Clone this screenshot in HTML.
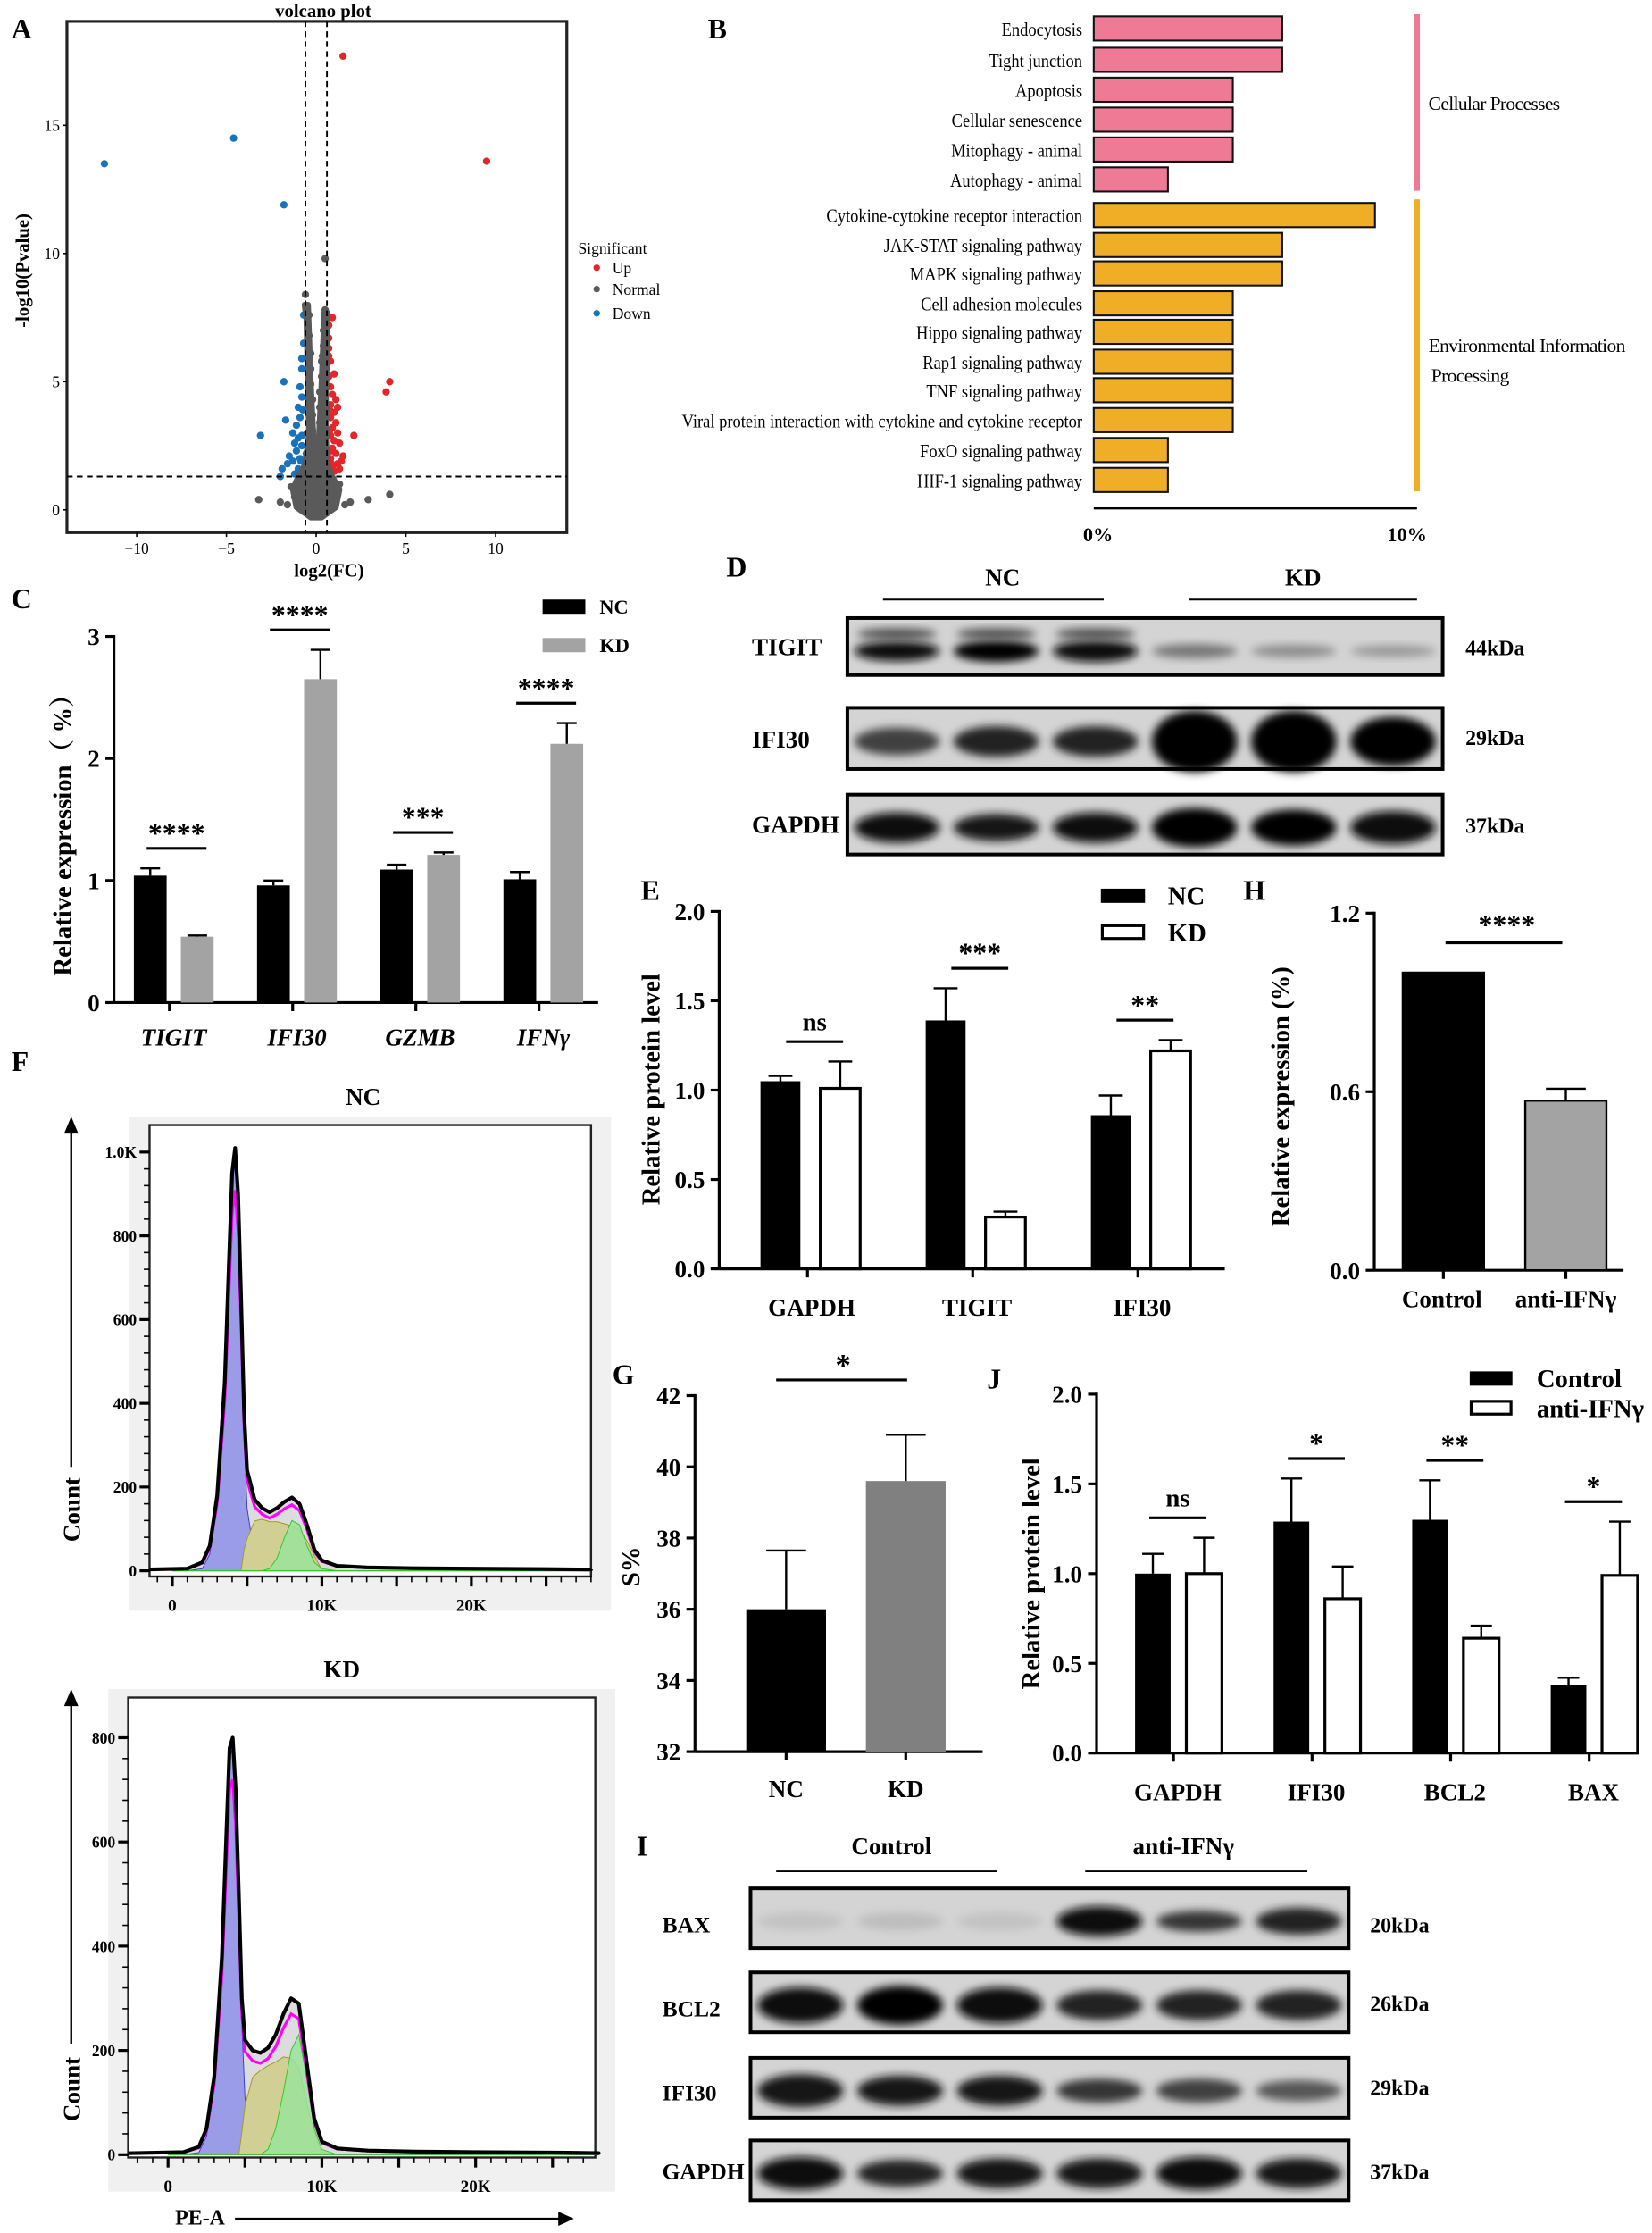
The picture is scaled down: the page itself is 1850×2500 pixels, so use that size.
<!DOCTYPE html>
<html><head><meta charset="utf-8"><style>
html,body{margin:0;padding:0;background:#fff}
svg{display:block}
text{font-family:"Liberation Serif",serif;font-weight:bold;fill:#000}
.n{font-weight:normal}
</style></head><body>
<svg id="fig" xmlns="http://www.w3.org/2000/svg" width="1850" height="2500" viewBox="0 0 1160 1568" preserveAspectRatio="none">
<defs><filter id="blur" x="-20%" y="-50%" width="140%" height="200%"><feGaussianBlur stdDeviation="3"/></filter></defs>
</svg>
<script>
// ---------- DATA ----------
// volcano
const upX=[1.5,9.5,4.1,3.9,2.1,0.9,0.7,0.7,0.7,0.7,0.8,1.0,0.7,0.8,0.9,1.1,0.8,1.2,1.0,0.8,1.1,0.9,1.2,0.8,1.0,1.3,0.9,1.1,0.8,1.4,1.2,0.9,1.0,1.3,0.8,1.5,0.75,0.75,0.8,0.85];
const upY=[17.7,13.6,5.0,4.6,2.9,7.5,7.2,6.7,6.3,6.0,5.8,5.3,5.2,4.8,4.5,4.3,4.1,4.0,3.8,3.6,3.4,3.2,3.0,2.9,2.7,2.6,2.4,2.2,2.0,1.9,1.8,1.7,1.5,1.6,1.4,2.1,3.9,3.1,2.3,1.8];
const downX=[-11.8,-4.6,-1.8,-1.8,-3.1,-1.7,-0.7,-0.7,-0.8,-0.8,-0.9,-0.8,-1.0,-0.9,-1.1,-1.3,-1.0,-1.2,-0.8,-1.1,-1.5,-0.9,-1.3,-1.9,-1.6,-1.0,-0.8,-1.2,-2.0,-0.75,-0.8,-0.85];
const downY=[13.5,14.5,11.9,5.0,2.9,3.5,7.6,6.5,5.9,5.5,4.8,4.4,4.0,3.6,3.3,3.0,2.8,2.6,2.5,2.3,2.1,2.0,1.9,1.6,1.8,1.6,1.5,1.4,1.3,3.9,2.9,1.9];
const normX=[0.5,-0.6,0.5,-0.4,0.4,-0.4,0.4,-0.3,0.3,-0.3,0.3,-0.3,0.2,-0.2,0.2,-0.2,0.2,-0.2,0.15,-0.15,0.1,-0.1,0.1,0,-0.4,0.4,-0.5,0.5,-0.2,0.2,-0.7,0.7,0,-0.3,0.3,-0.9,0.9,-1.2,1.2,0,-0.5,0.5,-1.6,1.6,-2.0,-3.2,2.9,4.1,1.9,-1.4,1.3,-0.6,0.55,-0.55,0.5,-0.5,0.45,-0.45,0.4,-0.4,0.35,-0.1,0.1,-0.6,0.6,-0.3,0.3,-0.8,0.8,-1.0,1.0];
const normY=[9.8,8.4,7.8,7.6,7.0,6.8,6.4,6.1,5.8,5.5,5.2,4.9,4.6,4.3,4.0,3.7,3.4,3.1,2.8,2.5,2.2,1.9,1.6,1.3,1.2,1.2,0.9,0.9,0.8,0.7,0.6,0.6,0.5,0.4,0.3,0.4,0.3,0.5,0.6,0.1,0.2,0.1,0.2,0.2,0.3,0.4,0.4,0.6,0.3,0.9,1.0,1.5,1.6,2.2,2.4,3.0,3.3,4.0,4.5,5.2,6.0,0.3,0.2,1.0,1.1,1.0,0.9,0.2,0.3,0.9,0.8];
// dense envelope of the "normal" cloud
const envX=[-0.65,-0.55,-0.5,-0.45,-0.4,-0.6,-1.0,-1.3,-1.1,-0.3,0.3,1.1,1.3,0.9,0.6,0.55,0.55,0.6,0.6,0.45,0.3,0.15,0,-0.15,-0.3,-0.45];
const envY=[8.0,7.5,6.0,4.5,3.0,1.8,1.3,0.8,0.1,-0.3,-0.3,0.1,0.8,1.3,1.8,3.0,4.5,6.0,7.7,7.7,5.0,2.8,2.0,2.8,5.0,8.0];
const volXTicks=[-10,-5,0,5,10];
const volYTicks=[0,5,10,15];
// KEGG
const keggCats=["Endocytosis","Tight junction","Apoptosis","Cellular senescence","Mitophagy - animal","Autophagy - animal","Cytokine-cytokine receptor interaction","JAK-STAT signaling pathway","MAPK signaling pathway","Cell adhesion molecules","Hippo signaling pathway","Rap1 signaling pathway","TNF signaling pathway","Viral protein interaction with cytokine and cytokine receptor","FoxO signaling pathway","HIF-1 signaling pathway"];
const keggVals=[6.1,6.1,4.5,4.5,4.5,2.4,9.1,6.1,6.1,4.5,4.5,4.5,4.5,4.5,2.4,2.4];
const keggGroup=[0,0,0,0,0,0,1,1,1,1,1,1,1,1,1,1];
const keggTicks=["0%","10%"];
const keggTickVals=[0,10];
// C
const cCats=["TIGIT","IFI30","GZMB","IFNγ"];
const cNC=[1.04,0.96,1.09,1.01];
const cNCerr=[0.06,0.04,0.04,0.06];
const cKD=[0.54,2.65,1.21,2.12];
const cKDerr=[0.01,0.24,0.02,0.17];
const cSig=["****","****","***","****"];
const cTicks=[0,1,2,3];
// E
const eCats=["GAPDH","TIGIT","IFI30"];
const eNC=[1.05,1.39,0.86];
const eNCerr=[0.03,0.18,0.11];
const eKD=[1.01,0.29,1.22];
const eKDerr=[0.15,0.03,0.06];
const eSig=["ns","***","**"];
const eTicks=[0,0.5,1.0,1.5,2.0];
// H
const hCats=["Control","anti-IFNγ"];
const hVals=[1.0,0.57];
const hErr=[0,0.04];
const hTicks=[0,0.6,1.2];
// G
const gCats=["NC","KD"];
const gVals=[36.0,39.6];
const gErr=[1.65,1.3];
const gTicks=[32,34,36,38,40,42];
// J
const jCats=["GAPDH","IFI30","BCL2","BAX"];
const jCtrl=[1.00,1.29,1.30,0.38];
const jCtrlErr=[0.11,0.24,0.22,0.04];
const jAnti=[1.00,0.86,0.64,0.99];
const jAntiErr=[0.20,0.18,0.07,0.30];
const jSig=["ns","*","**","*"];
const jTicks=[0,0.5,1.0,1.5,2.0];
// Flow histograms (x in K channels)
const flowX=[1,2,2.5,3,3.5,3.8,4.0,4.2,4.4,4.6,4.8,5,5.5,6,6.5,7,7.5,8,8.5,9,9.5,10,11,13,16,20,25,28];
const ncTotal=[5,20,60,180,450,750,950,1010,900,650,380,240,170,150,140,150,165,175,160,110,50,25,12,8,6,5,4,3];
const ncG1=[0,5,40,160,420,720,920,980,870,600,320,150,30,5,0,0,0,0,0,0,0,0,0,0,0,0,0,0];
const ncG2=[0,0,0,0,0,0,0,0,0,0,0,0,0,0,5,30,80,120,110,60,20,5,0,0,0,0,0,0];
const kdTotal=[5,15,50,150,380,620,780,800,700,500,300,220,200,195,205,230,270,300,290,180,70,25,12,8,6,5,4,3];
const kdG1=[0,4,35,130,350,590,760,780,670,460,250,110,25,5,0,0,0,0,0,0,0,0,0,0,0,0,0,0];
const kdG2=[0,0,0,0,0,0,0,0,0,0,0,0,0,0,10,50,120,200,230,150,50,10,0,0,0,0,0,0];
const ncYTicks=[0,200,400,600,800,1000];
const ncYLabels=["0","200","400","600","800","1.0K"];
const kdYTicks=[0,200,400,600,800];
const flowXTicks=[0,10,20];
const flowXLabels=["0","10K","20K"];
// Blots (band intensity 0..1)
const dLanesTIGIT=[0.95,1.0,0.95,0.45,0.35,0.3];
const dLanesIFI30=[0.7,0.85,0.85,1.0,1.0,1.0];
const dLanesIFI30h=[0.45,0.5,0.5,1.0,1.0,0.8];
const dLanesGAPDH=[0.95,0.9,0.95,1.0,1.0,0.95];
const iLanesBAX=[0.1,0.12,0.1,0.95,0.75,0.85];
const iLanesBCL2=[0.95,1.0,0.95,0.85,0.85,0.85];
const iLanesIFI30=[0.9,0.9,0.9,0.75,0.7,0.6];
const iLanesGAPDH=[0.95,0.85,0.9,0.9,0.95,0.9];

// ---------- HELPERS ----------
const NS="http://www.w3.org/2000/svg";
const svg=document.getElementById('fig');
function mk(tag,attrs,name,parent){
  const el=document.createElementNS(NS,tag);
  for(const k in attrs) el.setAttribute(k,attrs[k]);
  
  
  (parent||svg).appendChild(el);
  return el;
}
function tx(x,y,s,name,opt){
  opt=opt||{};
  const a={x:x,y:y,'font-size':opt.size||14,'text-anchor':opt.anchor||'middle'};
  if(opt.cls) a['class']=opt.cls;
  if(opt.rot!==undefined) a.transform='rotate('+opt.rot+' '+x+' '+y+')';
  if(opt.style) a.style=opt.style;
  if(opt.fill) a.fill=opt.fill;
  const el=mk('text',a,name);
  el.textContent=s;
  return el;
}
function ln(x1,y1,x2,y2,name,w,extra){
  const a={x1:x1,y1:y1,x2:x2,y2:y2,stroke:'#000','stroke-width':w||1.5};
  if(extra) for(const k in extra) a[k]=extra[k];
  return mk('line',a,name);
}
function errBar(cx,yTop,yErr,cap,name){
  ln(cx,yTop,cx,yErr,name,1.5);
  ln(cx-cap,yErr,cx+cap,yErr,name+'-cap',1.5);
}

// ---------- PANEL LABELS ----------
[["A",8,27],["B",497,27],["C",8,427],["D",510,405],["E",450,632],["F",8,752],["G",430,972],["H",873,632],["J",693,975],["I",447,1303]].forEach(p=>{
  tx(p[1],p[2],p[0],'panel-label-'+p[0],{size:20,anchor:'start'});
});

// ---------- A: VOLCANO ----------
(function(){
  const vx=v=>222+v*12.6, vy=v=>358-v*18;
  tx(227,12,'volcano plot','volcano-title',{size:13});
  mk('rect',{x:47,y:15,width:351,height:359,fill:'#fff',stroke:'#222','stroke-width':2},'volcano-frame');
  volXTicks.forEach(t=>{ln(vx(t),374,vx(t),377,'volcano-x-tick',1);tx(vx(t),389,String(t).replace('-','−'),'volcano-x-tick-label',{size:11,cls:'n',fill:'#444'});});
  volYTicks.forEach(t=>{ln(44,vy(t),47,vy(t),'volcano-y-tick',1);tx(42,vy(t)+4,t,'volcano-y-tick-label',{size:11,cls:'n',anchor:'end',fill:'#444'});});
  tx(231,405,'log2(FC)','volcano-x-title',{size:13});
  tx(20,190,'-log10(Pvalue)','volcano-y-title',{size:13,rot:-90});
  const draw=(X,Y,c,n)=>X.forEach((x,i)=>mk('circle',{cx:vx(x),cy:vy(Y[i]),r:2.6,fill:c},n));
  draw(downX,downY,'#1a72bb','volcano-point-down');
  draw(upX,upY,'#e3262a','volcano-point-up');
  let d='';envX.forEach((x,i)=>{d+=(i?' L':'M')+vx(x).toFixed(1)+','+vy(envY[i]).toFixed(1);});
  mk('path',{d:d+' Z',fill:'#5a5a5a',stroke:'#5a5a5a','stroke-width':4,'stroke-linejoin':'round'},'volcano-normal-cloud');
  draw(normX,normY,'#5a5a5a','volcano-point-normal');
  ln(vx(-0.6),15,vx(-0.6),374,'volcano-fc-threshold-left',1.2,{'stroke-dasharray':'4,3'});
  ln(vx(0.6),15,vx(0.6),374,'volcano-fc-threshold-right',1.2,{'stroke-dasharray':'4,3'});
  ln(47,vy(1.3),398,vy(1.3),'volcano-p-threshold',1.2,{'stroke-dasharray':'4,3'});
  tx(406,178,'Significant','legend-title',{size:11,anchor:'start',cls:'n'});
  [['Up','#e3262a',192],['Normal','#5a5a5a',207],['Down','#1a72bb',224]].forEach(l=>{
    mk('circle',{cx:419,cy:l[2]-4,r:2.3,fill:l[1]},'legend-dot-'+l[0].toLowerCase());
    tx(430,l[2],l[0],'legend-entry-'+l[0].toLowerCase(),{size:11,anchor:'start',cls:'n'});
  });
})();

// ---------- B: KEGG ----------
(function(){
  const sx=v=>768+v*21.7;
  const rowY=[20,42,63,84,105,126,151,172,192,213,233,254,274,295,316,337];
  keggCats.forEach((c,i)=>{
    const y=rowY[i];
    mk('rect',{x:sx(0),y:y-8.5,width:sx(keggVals[i])-sx(0),height:17,fill:keggGroup[i]?'#f0ad26':'#ef7a96',stroke:'#111','stroke-width':1.3},'kegg-bar');
    const t=tx(760,y+5,c,'kegg-category-label',{size:13.5,anchor:'end',cls:'n'});
    t.setAttribute('transform','translate(760 0) scale(0.86 1) translate(-760 0)');
  });
  ln(768,357,995,357,'kegg-x-axis',1.5);
  keggTickVals.forEach((v,i)=>tx(sx(v)+3,380,keggTicks[i],'kegg-x-tick-label',{size:14}));
  mk('rect',{x:993,y:10,width:4,height:124,fill:'#ef7a96'},'bracket-cellular-processes');
  mk('rect',{x:993,y:140,width:4,height:205,fill:'#f0ad26'},'bracket-environmental-information');
  tx(1003,77,'Cellular Processes','group-label-cellular-processes',{size:13.5,anchor:'start',cls:'n',style:'letter-spacing:-0.4px'});
  tx(1003,247,'Environmental Information','group-label-environmental-1',{size:13.5,anchor:'start',cls:'n',style:'letter-spacing:-0.4px'});
  tx(1005,268,'Processing','group-label-environmental-2',{size:13.5,anchor:'start',cls:'n',style:'letter-spacing:-0.4px'});
})();

// ---------- generic grouped bar chart ----------
function grouped(cfg){
  const sy=v=>cfg.y0-(v-cfg.min)*cfg.ppu;
  ln(cfg.ax,sy(cfg.ticks[cfg.ticks.length-1])-1,cfg.ax,cfg.y0,cfg.name+'-y-axis',2);
  ln(cfg.ax,cfg.y0,cfg.axEnd,cfg.y0,cfg.name+'-x-axis',2);
  cfg.ticks.forEach((t,i)=>{
    ln(cfg.ax-6,sy(t),cfg.ax,sy(t),cfg.name+'-y-tick',2);
    tx(cfg.ax-10,sy(t)+6,cfg.tickLabels?cfg.tickLabels[i]:t.toFixed(cfg.dec),cfg.name+'-y-tick-label',{size:17,anchor:'end'});
  });
  cfg.cats.forEach((c,i)=>{
    const cx=cfg.c0+i*cfg.step;
    cfg.series.forEach((s,j)=>{
      const x=cx+cfg.offs[j];
      const top=sy(s.vals[i]);
      mk('rect',{x:x,y:top,width:cfg.bw,height:cfg.y0-top,fill:s.fill,stroke:s.stroke||s.fill,'stroke-width':s.stroke?2:0},cfg.name+'-bar-'+s.key);
      if(s.err[i]>0) errBar(x+cfg.bw/2,top,sy(s.vals[i]+s.err[i]),cfg.bw*0.3,cfg.name+'-error-bar');
    });
    ln(cx-3,cfg.y0,cx-3,cfg.y0+6,cfg.name+'-x-tick',2);
    tx(cx+(cfg.lblOff||0),cfg.y0+cfg.lblDy,c,cfg.name+'-x-label',{size:17,style:cfg.italic?'font-style:italic':''});
    if(cfg.sig){
      const m=Math.max(...cfg.series.map(s=>s.vals[i]+s.err[i]));
      const ly=sy(m)-cfg.sigGap;
      ln(cx-cfg.sigHalf+cfg.sigShift,ly,cx+cfg.sigHalf+cfg.sigShift,ly,cfg.name+'-significance-line',2);
      tx(cx+cfg.sigShift,ly-(cfg.sig[i]==='ns'?8:4),cfg.sig[i],cfg.name+'-significance-label',{size:cfg.sig[i]==='ns'?18:20});
    }
  });
}

// ---------- C ----------
grouped({name:'qpcr',y0:704,min:0,ppu:85.7,ax:80,axEnd:420,ticks:cTicks,dec:0,cats:cCats,c0:122,step:86.5,offs:[-28,5],bw:23,
  series:[{key:'nc',vals:cNC,err:cNCerr,fill:'#000'},{key:'kd',vals:cKD,err:cKDerr,fill:'#a3a3a3'}],
  lblDy:30,italic:true,sig:cSig,sigGap:14,sigHalf:21,sigShift:2});
tx(50,582,'Relative expression（ %）','qpcr-y-title',{size:18,rot:-90,style:'font-family:"Liberation Serif","Noto Serif CJK SC",serif'});
mk('rect',{x:381,y:421,width:30,height:10,fill:'#000'},'legend-swatch-nc');
tx(421,431,'NC','legend-label-nc',{size:14,anchor:'start'});
mk('rect',{x:381,y:448,width:30,height:10,fill:'#a3a3a3'},'legend-swatch-kd');
tx(421,458,'KD','legend-label-kd',{size:14,anchor:'start'});

// ---------- E ----------
grouped({name:'wb-quant-e',y0:891,min:0,ppu:125.5,ax:505,axEnd:860,ticks:eTicks,dec:1,cats:eCats,c0:570,step:116,offs:[-36,6],bw:28,
  series:[{key:'nc',vals:eNC,err:eNCerr,fill:'#000'},{key:'kd',vals:eKD,err:eKDerr,fill:'#fff',stroke:'#000'}],
  lblDy:33,sig:eSig,sigGap:14,sigHalf:20,sigShift:2});
tx(463,765,'Relative protein level','wb-quant-e-y-title',{size:18,rot:-90});
mk('rect',{x:773,y:624,width:31,height:10,fill:'#000'},'legend-swatch-nc');
tx(820,635,'NC','legend-label-nc',{size:18,anchor:'start'});
mk('rect',{x:774,y:650,width:29,height:9,fill:'#fff',stroke:'#000','stroke-width':2},'legend-swatch-kd');
tx(820,661,'KD','legend-label-kd',{size:18,anchor:'start'});

// ---------- H ----------
(function(){
  const y0=892,ppu=209,ax=965,sy=v=>y0-v*ppu;
  ln(ax,sy(1.2)-1,ax,y0,'h-y-axis',2);ln(ax,y0,1140,y0,'h-x-axis',2);
  hTicks.forEach(t=>{ln(ax-6,sy(t),ax,sy(t),'h-y-tick',2);tx(ax-10,sy(t)+6,t.toFixed(1),'h-y-tick-label',{size:17,anchor:'end'});});
  const xs=[985,1071],fills=['#000','#a3a3a3'],w=57;
  hCats.forEach((c,i)=>{
    const top=sy(hVals[i]);
    mk('rect',{x:xs[i],y:top,width:w,height:y0-top,fill:fills[i],stroke:'#000','stroke-width':1.5},'h-bar');
    if(hErr[i]>0) errBar(xs[i]+w/2,top,sy(hVals[i]+hErr[i]),14,'h-error-bar');
    ln(xs[i]+w/2,y0,xs[i]+w/2,y0+6,'h-x-tick',2);
    tx(xs[i]+w/2-(i?0:1),918,c,'h-x-label',{size:17});
  });
  ln(1015,662,1097,662,'h-significance-line',2);
  tx(1058,656,'****','h-significance-label',{size:20});
  tx(905,770,'Relative expression  (%)','h-y-title',{size:18,rot:-90});
})();

// ---------- G ----------
(function(){
  const y0=1230,ppu=25,ax=488,sy=v=>y0-(v-32)*ppu;
  ln(ax,sy(42)-1,ax,y0,'g-y-axis',2);ln(ax,y0,690,y0,'g-x-axis',2);
  gTicks.forEach(t=>{ln(ax-6,sy(t),ax,sy(t),'g-y-tick',2);tx(ax-10,sy(t)+6,t,'g-y-tick-label',{size:17,anchor:'end'});});
  const xs=[524,608],fills=['#000','#808080'],w=56;
  gCats.forEach((c,i)=>{
    const top=sy(gVals[i]);
    mk('rect',{x:xs[i],y:top,width:w,height:y0-top,fill:fills[i]},'g-bar');
    errBar(xs[i]+w/2,top,sy(gVals[i]+gErr[i]),14,'g-error-bar');
    ln(xs[i]+w/2,y0,xs[i]+w/2,y0+6,'g-x-tick',2);
    tx(xs[i]+w/2,1262,c,'g-x-label',{size:17});
  });
  ln(545,969,637,969,'g-significance-line',2);
  tx(592,966,'*','g-significance-label',{size:22});
  tx(449,1100,'S%','g-y-title',{size:18,rot:-90});
})();

// ---------- J ----------
grouped({name:'wb-quant-j',y0:1231,min:0,ppu:126,ax:770,axEnd:1150,ticks:jTicks,dec:1,cats:jCats,c0:827,step:97.3,offs:[-30,6],bw:25,
  series:[{key:'control',vals:jCtrl,err:jCtrlErr,fill:'#000'},{key:'anti-ifng',vals:jAnti,err:jAntiErr,fill:'#fff',stroke:'#000'}],
  lblDy:33,sig:jSig,sigGap:14,sigHalf:20,sigShift:0});
tx(730,1105,'Relative protein level','wb-quant-j-y-title',{size:18,rot:-90});
mk('rect',{x:1032,y:963,width:30,height:10,fill:'#000'},'legend-swatch-control');
tx(1079,974,'Control','legend-label-control',{size:18,anchor:'start'});
mk('rect',{x:1033,y:984,width:28,height:9,fill:'#fff',stroke:'#000','stroke-width':2},'legend-swatch-anti-ifng');
tx(1079,995,'anti-IFNγ','legend-label-anti-ifng',{size:18,anchor:'start'});

// ---------- F: Flow ----------
function flow(o){
  mk('rect',{x:o.bx-14,y:o.by-6,width:o.bw+28,height:o.bh+30,fill:'#f0f0f0'},o.name+'-background');
  mk('rect',{x:o.bx,y:o.by,width:o.bw,height:o.bh,fill:'#fff',stroke:'#222','stroke-width':1.5},o.name+'-frame');
  const sx=v=>o.x0+v*o.ppk, sy=v=>o.y0-v*o.ppc;
  const pathOf=arr=>{let d='M'+sx(0)+','+o.y0;flowX.forEach((x,i)=>{d+=' L'+sx(x).toFixed(1)+','+sy(arr[i]).toFixed(1);});d+=' L'+(o.bx+o.bw)+','+sy(arr[arr.length-1])+' L'+(o.bx+o.bw)+','+o.y0+' Z';return d;};
  mk('path',{d:pathOf(o.total),fill:'#dcdcdc',stroke:'none'},o.name+'-total-area');
  const sArr=o.total.map((v,i)=>flowX[i]>=4.8&&flowX[i]<=9.6?Math.max(0,v-o.g1[i]-o.g2[i])*0.85:0);
  mk('path',{d:pathOf(o.g1),fill:'#9a9ce8',stroke:'#3b3bd0','stroke-width':0.6},o.name+'-g1-area');
  mk('path',{d:pathOf(sArr.map((v,i)=>v+o.g2[i]*0.5)),fill:'#d2cf94',stroke:'#a09a20','stroke-width':0.6},o.name+'-s-area');
  mk('path',{d:pathOf(o.g2),fill:'#9be39b',stroke:'#22cc22','stroke-width':0.6,'fill-opacity':0.85},o.name+'-g2-area');
  let d='';flowX.forEach((x,i)=>{d+=(i?' L':'M')+sx(x).toFixed(1)+','+sy(o.total[i]*0.9).toFixed(1);});
  mk('path',{d:d+' L'+(o.bx+o.bw)+','+(o.y0-1),fill:'none',stroke:'#ff00ff','stroke-width':2},o.name+'-fit-line');
  d='M'+(o.bx)+','+(o.y0-1);flowX.forEach((x,i)=>{d+=' L'+sx(x).toFixed(1)+','+sy(o.total[i]).toFixed(1);});
  mk('path',{d:d+' L'+(o.bx+o.bw)+','+(o.y0-1),fill:'none',stroke:'#000','stroke-width':2.6,'stroke-linejoin':'round'},o.name+'-histogram-line');
  o.yt.forEach((t,i)=>{ln(o.bx-7,sy(t),o.bx,sy(t),o.name+'-y-tick',2);tx(o.bx-9,sy(t)+4,o.yl[i],o.name+'-y-tick-label',{size:11,anchor:'end'});
    if(i<o.yt.length-1){for(let k=1;k<5;k++){const yy=sy(t+(o.yt[1]-o.yt[0])*k/5);ln(o.bx-4,yy,o.bx,yy,o.name+'-y-minor-tick',1);}}});
  for(let k=-2;k<=28;k++){const xx=sx(k);if(xx<o.bx||xx>o.bx+o.bw)continue;ln(xx,o.by+o.bh,xx,o.by+o.bh+(k%5===0?7:4),o.name+'-x-tick',k%5===0?2:1);}
  flowXTicks.forEach((t,i)=>tx(sx(t),o.by+o.bh+24,flowXLabels[i],o.name+'-x-tick-label',{size:12}));
  tx(o.bx+150,o.by-14,o.title,o.name+'-title',{size:17});
  ln(50,o.arrowBottom,50,o.by-2,o.name+'-count-arrow',1.5);
  mk('path',{d:'M45,'+(o.by+6)+' L50,'+(o.by-6)+' L55,'+(o.by+6)+' Z',fill:'#000'},o.name+'-count-arrowhead');
  tx(56,o.countY,'Count',o.name+'-y-title',{size:17,rot:-90});
}
flow({name:'flow-nc',title:'NC',bx:105,by:790,bw:310,bh:317,x0:121,ppk:10.5,y0:1103,ppc:0.294,total:ncTotal,g1:ncG1,g2:ncG2,yt:ncYTicks,yl:ncYLabels,arrowBottom:1030,countY:1060});
flow({name:'flow-kd',title:'KD',bx:90,by:1192,bw:328,bh:323,x0:118,ppk:10.8,y0:1513,ppc:0.366,total:kdTotal,g1:kdG1,g2:kdG2,yt:kdYTicks,yl:kdYTicks.map(String),arrowBottom:1435,countY:1467});
tx(123,1562,'PE-A','flow-x-title',{size:15,anchor:'start'});
ln(165,1558,395,1558,'flow-x-arrow',1.5);
mk('path',{d:'M392,1553 L403,1558 L392,1563 Z',fill:'#000'},'flow-x-arrowhead');

// ---------- Blots ----------
function blot(x,y,w,h,lanes,name,opts){
  opts=opts||{};
  mk('rect',{x:x,y:y,width:w,height:h,fill:'#d4d4d4',stroke:'#000','stroke-width':2.5},name+'-frame');
  const lw=w/6;
  lanes.forEach((v,i)=>{
    const cx=x+lw*(i+0.5);
    const bh=(opts.hs?opts.hs[i]:0.45)*h;
    const g=Math.round(215*(1-v));
    const col='rgb('+g+','+g+','+g+')';
    mk('ellipse',{cx:cx,cy:y+h*(opts.cy||0.55),rx:lw*0.43,ry:bh/2,fill:col,filter:'url(#blur)'},name+'-band');
    if(opts.upper&&i<3) mk('ellipse',{cx:cx,cy:y+h*0.28,rx:lw*0.4,ry:h*0.1,fill:'rgb(80,80,80)',filter:'url(#blur)'},name+'-upper-band');
  });
}
// D
tx(704,411,'NC','blot-d-header-nc',{size:17});
ln(620,421,775,421,'blot-d-header-line-nc',1.2);
tx(915,411,'KD','blot-d-header-kd',{size:17});
ln(835,421,995,421,'blot-d-header-line-kd',1.2);
blot(595,434,418,40,dLanesTIGIT,'blot-d-tigit',{upper:true,cy:0.58,hs:[0.35,0.38,0.38,0.25,0.22,0.2]});
blot(595,497,418,43,dLanesIFI30,'blot-d-ifi30',{hs:dLanesIFI30h});
blot(595,558,418,42,dLanesGAPDH,'blot-d-gapdh',{hs:[0.5,0.45,0.5,0.65,0.6,0.55]});
[['TIGIT',460],['IFI30',525],['GAPDH',585]].forEach(r=>tx(528,r[1],r[0],'blot-d-label-'+r[0].toLowerCase(),{size:17,anchor:'start'}));
[['44kDa',460],['29kDa',523],['37kDa',585]].forEach(r=>tx(1029,r[1],r[0],'blot-d-size-label',{size:15,anchor:'start'}));
// I
tx(626,1302,'Control','blot-i-header-control',{size:17});
ln(545,1314,700,1314,'blot-i-header-line-control',1.2);
tx(831,1302,'anti-IFNγ','blot-i-header-anti-ifng',{size:17});
ln(762,1314,918,1314,'blot-i-header-line-anti-ifng',1.2);
blot(527,1326,420,42,iLanesBAX,'blot-i-bax',{hs:[0.3,0.3,0.3,0.5,0.35,0.45]});
blot(527,1385,420,42,iLanesBCL2,'blot-i-bcl2',{hs:[0.6,0.65,0.6,0.5,0.5,0.5]});
blot(527,1445,420,42,iLanesIFI30,'blot-i-ifi30',{hs:[0.55,0.5,0.5,0.4,0.4,0.35]});
blot(527,1503,420,42,iLanesGAPDH,'blot-i-gapdh',{hs:[0.55,0.45,0.5,0.5,0.55,0.5]});
[['BAX',1357],['BCL2',1416],['IFI30',1475],['GAPDH',1530]].forEach(r=>tx(465,r[1],r[0],'blot-i-label-'+r[0].toLowerCase(),{size:16,anchor:'start'}));
[['20kDa',1357],['26kDa',1412],['29kDa',1471],['37kDa',1530]].forEach(r=>tx(962,r[1],r[0],'blot-i-size-label',{size:15,anchor:'start'}));
</script>
</body></html>
